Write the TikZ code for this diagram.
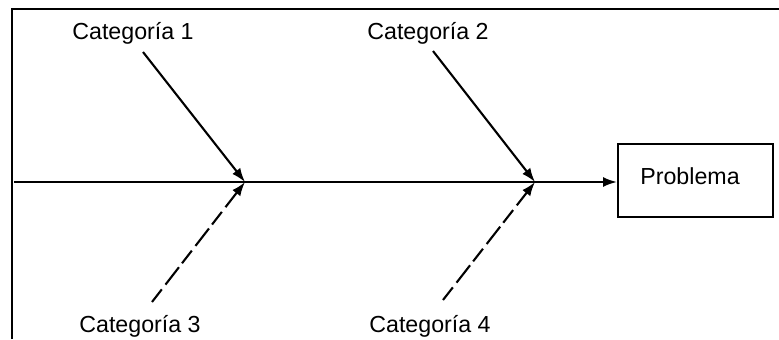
\documentclass[tikz,border=0pt]{standalone}
\usepackage{fontspec}
\setmainfont{Liberation Sans}
\usetikzlibrary{arrows.meta}
\tikzset{
  lbl/.style={font=\fontsize{23.3}{27}\selectfont, inner sep=0pt},
  cause/.style={line width=2.1pt, -{Latex[length=14bp,width=10bp]}},
  dcause/.style={cause, dash pattern=on 16bp off 6bp on 22bp off 5bp}
}
\begin{document}
\begin{tikzpicture}[x=1bp,y=-1bp]
  \useasboundingbox (0,0) rectangle (779,339);
  % marco
  \coordinate (F0) at (12,339); \coordinate (F1) at (12,9); \coordinate (F2) at (779,9);
  \draw[line width=2.8pt] (F0)--(F1)--(F2);
  % efecto
  \node[draw, line width=2pt, minimum width=155bp, minimum height=73bp,
        anchor=north west, inner sep=0pt] (prob) at (617,143) {};
  \node[lbl] (probtxt) at (690,176) {Problema};
  % espina
  \coordinate (S) at (14,182);
  \coordinate (J1) at (245,182); \coordinate (J2) at (535,182);
  \draw[cause] (S)--(prob.west |- S);
  % categorias
  \node[lbl] (cat1) at (133,33) {Categoría 1};
  \node[lbl] (cat2) at (428,33) {Categoría 2};
  \node[lbl] (cat3) at (140,326) {Categoría 3};
  \node[lbl] (cat4) at (430,326) {Categoría 4};
  \coordinate (A1) at (143,52); \coordinate (A2) at (433,51);
  \coordinate (A3) at (152,302); \coordinate (A4) at (443,300);
  \draw[cause] (A1)--(J1);
  \draw[cause] (A2)--(J2);
  \draw[dcause] (A3)--(J1);
  \draw[dcause] (A4)--(J2);
\end{tikzpicture}
\end{document}
